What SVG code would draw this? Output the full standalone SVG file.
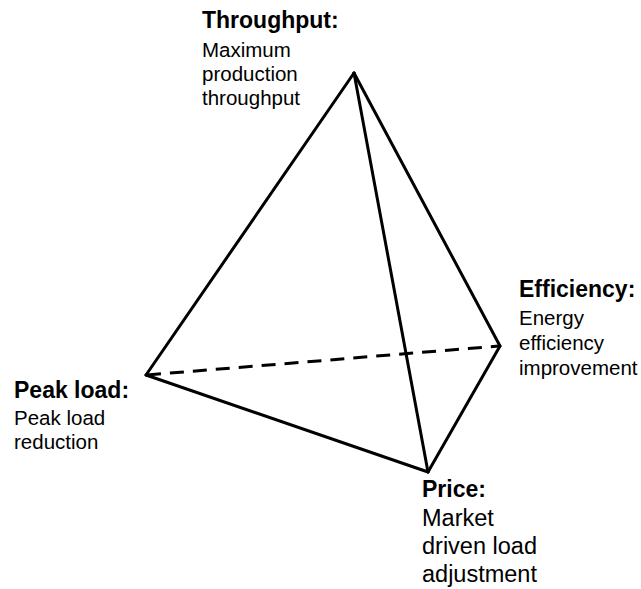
<svg xmlns="http://www.w3.org/2000/svg" width="641" height="589" viewBox="0 0 641 589">
<style>
.e{stroke:#000;stroke-width:3;fill:none;stroke-linecap:round;stroke-linejoin:round}
.d{stroke-dasharray:14 9;stroke-linecap:butt}
.h{font-family:"Liberation Sans",Arial,sans-serif;font-weight:bold;font-size:23px;fill:#000}
.t{font-family:"Liberation Sans",Arial,sans-serif;font-size:20.5px;fill:#000}
.p{font-size:23.5px}
</style>
<rect width="641" height="589" fill="#fff"/>
<g id="connectors">
<line class="e d" x1="147" y1="375" x2="499" y2="346"/>
<line class="e" x1="354" y1="73" x2="146" y2="375"/>
<line class="e" x1="354" y1="73" x2="428" y2="472"/>
<line class="e" x1="354" y1="73" x2="500" y2="346"/>
<line class="e" x1="146" y1="375" x2="428" y2="472"/>
<line class="e" x1="500" y1="346" x2="428" y2="472"/>
</g>
<g id="throughput">
<text class="h" x="202" y="28">Throughput:</text>
<text class="t" x="202" y="57">Maximum</text>
<text class="t" x="202" y="81">production</text>
<text class="t" x="202" y="105">throughput</text>
</g>
<g id="peak">
<text class="h" x="14" y="398">Peak load:</text>
<text class="t" x="14" y="425">Peak load</text>
<text class="t" x="14" y="449">reduction</text>
</g>
<g id="efficiency">
<text class="h" x="519" y="297">Efficiency:</text>
<text class="t" x="519" y="325">Energy</text>
<text class="t" x="519" y="350">efficiency</text>
<text class="t" x="519" y="375">improvement</text>
</g>
<g id="price">
<text class="h" x="422" y="497">Price:</text>
<text class="t p" x="422" y="526">Market</text>
<text class="t p" x="422" y="554">driven load</text>
<text class="t p" x="422" y="582">adjustment</text>
</g>
</svg>
